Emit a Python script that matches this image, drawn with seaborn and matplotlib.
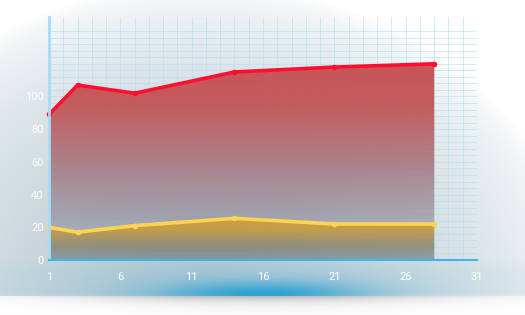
import numpy as np
import pandas as pd
import matplotlib
matplotlib.use("Agg")
import matplotlib.pyplot as plt
import seaborn as sns
from matplotlib.ticker import FixedLocator, MultipleLocator

# ---- data ----
days = [1, 3, 7, 14, 21, 28]
red_values = [89, 107, 102, 115, 118, 120]
yellow_values = [20, 17, 21, 25.5, 22, 22]
x_ticks = [1, 6, 11, 16, 21, 26, 31]
y_ticks = [0, 20, 40, 60, 80, 100]

sns.set_theme(style="white")
plt.rcParams['font.family'] = ['Roboto', 'DejaVu Sans']

W, H = 525, 315
fig = plt.figure(figsize=(W / 100, H / 100), dpi=100)

# ---- background image (decoration) ----
yy, xx = np.mgrid[0:H, 0:W].astype(float)
img = np.ones((H, W, 3))
d = np.sqrt(((xx - 200) / 380) ** 2 + ((yy - 305) / 320) ** 2)
t = np.clip(1 - d, 0, 1) ** 0.6
C = np.array([178, 196, 204]) / 255
for k in range(3):
    img[..., k] = 1 - t * (1 - C[k])
# bluish band under the axis
band = (1 / (1 + np.exp(-(yy - 264) / 4))) * (1 / (1 + np.exp((yy - 295) / 0.8)))
bh = band * (0.45 * np.exp(-((xx - 250) / 200) ** 2) + 0.05)
B = np.array([140, 196, 220]) / 255
for k in range(3):
    img[..., k] = img[..., k] * (1 - bh) + B[k] * bh
glow = np.exp(-((xx - 262) / 100) ** 2 - ((yy - 294) / 13) ** 2) * (yy <= 296)
G = np.array([25, 155, 210]) / 255
for k in range(3):
    img[..., k] = img[..., k] * (1 - 0.85 * glow) + G[k] * 0.85 * glow
# white below, with soft shadow
below = yy > 295
shadow = np.exp(-((xx - 262) / 190) ** 2) * np.exp(-(yy - 295) / 6) * 0.7
for k in range(3):
    img[..., k] = np.where(below, 1 - shadow * (1 - 0.55), img[..., k])

bg = fig.add_axes([0, 0, 1, 1], zorder=0)
bg.imshow(np.clip(img, 0, 1), extent=[0, W, H, 0], aspect='auto', interpolation='bilinear')
bg.axis('off')

# ---- main axes ----
x0, x1, y0, y1 = 49, 477, 260, 17
ymax = (y0 - y1) / 1.635
ax = fig.add_axes([x0 / W, (H - y0) / H, (x1 - x0) / W, (y0 - y1) / H], zorder=1)
ax.patch.set_alpha(0)
ax.set_xlim(1, 31)
ax.set_ylim(0, ymax)

ax.xaxis.set_major_locator(FixedLocator(x_ticks))
ax.xaxis.set_minor_locator(MultipleLocator(1))
ax.yaxis.set_major_locator(FixedLocator(y_ticks))
ax.yaxis.set_minor_locator(FixedLocator(np.arange(0, 141, 4)))
ax.grid(True, which='both', color='#b4def2', linewidth=0.6, alpha=0.7)
ax.set_axisbelow(True)

# gradient fills clipped to areas
def grad_fill(xs, ys, stops, z):
    poly = ax.fill_between(xs, ys, 0, facecolor='none', edgecolor='none', zorder=z)
    n = 256
    v = np.linspace(0, 1, n)[:, None]
    top = max(ys)
    sv = np.array([s[0] for s in stops])
    cols = np.array([s[1] for s in stops])
    rgba = np.zeros((n, 1, 4))
    vals = v[:, 0] * top
    for k in range(4):
        rgba[:, 0, k] = np.interp(vals, sv, cols[:, k])
    im = ax.imshow(rgba[::-1], extent=[xs[0], xs[-1], 0, top], aspect='auto',
                   origin='upper', zorder=z, interpolation='bilinear')
    im.set_clip_path(poly.get_paths()[0], transform=ax.transData)

red_stops = [(0, (0.50, 0.56, 0.62, 0.3)), (25, (0.55, 0.52, 0.58, 0.6)),
             (60, (0.66, 0.45, 0.48, 0.88)), (95, (0.77, 0.33, 0.34, 0.95)),
             (125, (0.78, 0.31, 0.32, 0.97))]
yellow_stops = [(0, (0.38, 0.46, 0.47, 0.45)), (8, (0.52, 0.50, 0.40, 0.7)),
                (18, (0.78, 0.61, 0.26, 0.9)), (26, (0.82, 0.64, 0.22, 0.95))]
grad_fill(days, red_values, red_stops, 2)
grad_fill(days, yellow_values, yellow_stops, 3)

df = pd.DataFrame({
    'day': days * 2,
    'value': red_values + yellow_values,
    'series': ['red'] * len(days) + ['yellow'] * len(days),
})
sns.lineplot(data=df, x='day', y='value', hue='series',
             palette={'red': '#ff0f2f', 'yellow': '#ffd452'},
             linewidth=2.6, marker='o', markersize=4, markeredgewidth=0,
             legend=False, ax=ax, zorder=5, clip_on=False)

for s in ['top', 'right']:
    ax.spines[s].set_visible(False)
ax.spines['left'].set_color('#a6dcf6')
ax.spines['left'].set_linewidth(2)
ax.spines['bottom'].set_color('#3bb7ec')
ax.spines['bottom'].set_linewidth(1.5)
ax.spines['left'].set_zorder(6)
ax.spines['bottom'].set_zorder(6)

ax.set_xlabel('')
ax.set_ylabel('')
ax.tick_params(axis='both', which='both', length=0, labelsize=8, labelcolor='white')
ax.tick_params(axis='x', pad=9)
ax.tick_params(axis='y', pad=4)

fig.savefig('out.png', dpi=100)
